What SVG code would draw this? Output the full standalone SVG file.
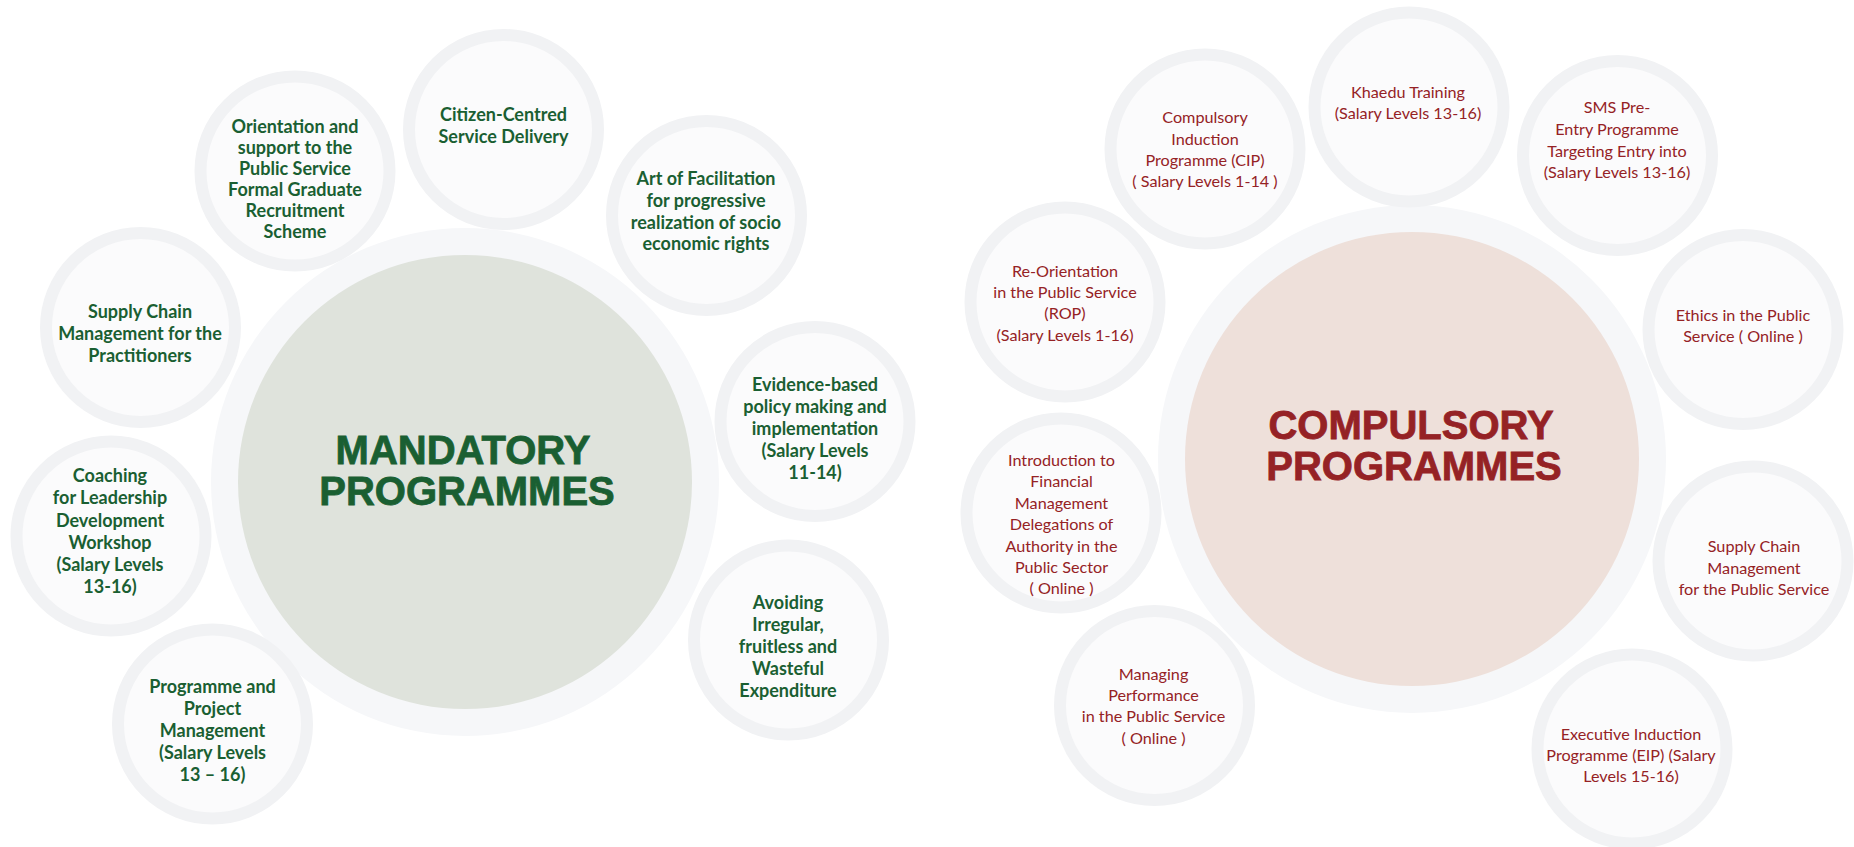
<svg xmlns="http://www.w3.org/2000/svg" width="1854" height="847" viewBox="0 0 1854 847">
  <style>
    .bg { fill: #ffffff; }
    .hub-ring { fill: #f6f7f9; }
    .hub-green { fill: #dfe3dc; }
    .hub-red { fill: #eee0da; }
    .bubble { fill: #fbfbfc; stroke: #f1f2f4; stroke-width: 12; }
    .title { font-family: "Liberation Sans", Arial, sans-serif; font-weight: bold; font-size: 40px; text-anchor: middle; stroke-width: 0.8; }
    .t-green { fill: #1a5f32; stroke: #1a5f32; }
    .t-red { fill: #952225; stroke: #952225; }
    .lbl-green { font-family: Lato, "Open Sans", sans-serif; font-weight: bold; font-size: 18px; text-anchor: middle; fill: #1a5f32; }
    .lbl-red { font-family: Lato, "Open Sans", sans-serif; font-size: 16.2px; text-anchor: middle; fill: #952225; }
  </style>
  <rect class="bg" x="0" y="0" width="1854" height="847"/>

  <!-- connectors: none drawn, bubbles simply cluster around each hub -->
  <g id="connectors"/>

  <!-- ===== Mandatory cluster ===== -->
  <g id="hub-mandatory">
    <circle class="hub-ring" cx="465" cy="482" r="254"/>
    <circle class="hub-green" cx="465" cy="482" r="227"/>
    <text class="title t-green" x="463" y="464">MANDATORY</text>
    <text class="title t-green" x="467" y="505">PROGRAMMES</text>
  </g>

  <g id="m-orientation">
    <circle class="bubble" cx="295" cy="171" r="94.5"/>
    <text class="lbl-green" x="295" y="133">Orientation and</text>
    <text class="lbl-green" x="295" y="154">support to the</text>
    <text class="lbl-green" x="295" y="175">Public Service</text>
    <text class="lbl-green" x="295" y="196">Formal Graduate</text>
    <text class="lbl-green" x="295" y="217">Recruitment</text>
    <text class="lbl-green" x="295" y="238">Scheme</text>
  </g>

  <g id="m-citizen">
    <circle class="bubble" cx="503.5" cy="129.5" r="94.5"/>
    <text class="lbl-green" x="503.5" y="121">Citizen-Centred</text>
    <text class="lbl-green" x="503.5" y="142.5">Service Delivery</text>
  </g>

  <g id="m-facilitation">
    <circle class="bubble" cx="706.5" cy="215.5" r="94.5"/>
    <text class="lbl-green" x="706" y="185">Art of Facilitation</text>
    <text class="lbl-green" x="706" y="207">for progressive</text>
    <text class="lbl-green" x="706" y="228.5">realization of socio</text>
    <text class="lbl-green" x="706" y="250">economic rights</text>
  </g>

  <g id="m-supply-chain">
    <circle class="bubble" cx="140.5" cy="327.5" r="94.5"/>
    <text class="lbl-green" x="140" y="318">Supply Chain</text>
    <text class="lbl-green" x="140" y="340">Management for the</text>
    <text class="lbl-green" x="140" y="362">Practitioners</text>
  </g>

  <g id="m-evidence">
    <circle class="bubble" cx="815" cy="421.5" r="94.5"/>
    <text class="lbl-green" x="815" y="391">Evidence-based</text>
    <text class="lbl-green" x="815" y="413">policy making and</text>
    <text class="lbl-green" x="815" y="435">implementation</text>
    <text class="lbl-green" x="815" y="457">(Salary Levels</text>
    <text class="lbl-green" x="815" y="479">11-14)</text>
  </g>

  <g id="m-coaching">
    <circle class="bubble" cx="111" cy="536" r="94.5"/>
    <text class="lbl-green" x="110" y="482">Coaching</text>
    <text class="lbl-green" x="110" y="504">for Leadership</text>
    <text class="lbl-green" x="110" y="526.5">Development</text>
    <text class="lbl-green" x="110" y="548.5">Workshop</text>
    <text class="lbl-green" x="110" y="570.5">(Salary Levels</text>
    <text class="lbl-green" x="110" y="592.5">13-16)</text>
  </g>

  <g id="m-project">
    <circle class="bubble" cx="212.5" cy="724" r="94.5"/>
    <text class="lbl-green" x="212.5" y="693">Programme and</text>
    <text class="lbl-green" x="212.5" y="715">Project</text>
    <text class="lbl-green" x="212.5" y="737">Management</text>
    <text class="lbl-green" x="212.5" y="759">(Salary Levels</text>
    <text class="lbl-green" x="212.5" y="781">13 – 16)</text>
  </g>

  <g id="m-expenditure">
    <circle class="bubble" cx="788.5" cy="640" r="94.5"/>
    <text class="lbl-green" x="788" y="609">Avoiding</text>
    <text class="lbl-green" x="788" y="631">Irregular,</text>
    <text class="lbl-green" x="788" y="653">fruitless and</text>
    <text class="lbl-green" x="788" y="675">Wasteful</text>
    <text class="lbl-green" x="788" y="697">Expenditure</text>
  </g>

  <!-- ===== Compulsory cluster ===== -->
  <g id="hub-compulsory">
    <circle class="hub-ring" cx="1412" cy="459" r="254"/>
    <circle class="hub-red" cx="1412" cy="459" r="227"/>
    <text class="title t-red" x="1411" y="439">COMPULSORY</text>
    <text class="title t-red" x="1414" y="480">PROGRAMMES</text>
  </g>

  <g id="c-cip">
    <circle class="bubble" cx="1205" cy="149" r="94.5"/>
    <text class="lbl-red" x="1205" y="123.3">Compulsory</text>
    <text class="lbl-red" x="1205" y="145">Induction</text>
    <text class="lbl-red" x="1205" y="166">Programme (CIP)</text>
    <text class="lbl-red" x="1205" y="187">( Salary Levels 1-14 )</text>
  </g>

  <g id="c-khaedu">
    <circle class="bubble" cx="1409" cy="107" r="94.5"/>
    <text class="lbl-red" x="1408" y="97.7">Khaedu Training</text>
    <text class="lbl-red" x="1408" y="119.3">(Salary Levels 13-16)</text>
  </g>

  <g id="c-sms">
    <circle class="bubble" cx="1617.5" cy="155.5" r="94.5"/>
    <text class="lbl-red" x="1617" y="113.3">SMS Pre-</text>
    <text class="lbl-red" x="1617" y="135">Entry Programme</text>
    <text class="lbl-red" x="1617" y="156.7">Targeting Entry into</text>
    <text class="lbl-red" x="1617" y="178.3">(Salary Levels 13-16)</text>
  </g>

  <g id="c-rop">
    <circle class="bubble" cx="1065" cy="302" r="94.5"/>
    <text class="lbl-red" x="1065" y="276.7">Re-Orientation</text>
    <text class="lbl-red" x="1065" y="298">in the Public Service</text>
    <text class="lbl-red" x="1065" y="319.3">(ROP)</text>
    <text class="lbl-red" x="1065" y="340.7">(Salary Levels 1-16)</text>
  </g>

  <g id="c-ethics">
    <circle class="bubble" cx="1743" cy="329.5" r="94.5"/>
    <text class="lbl-red" x="1743" y="320.7">Ethics in the Public</text>
    <text class="lbl-red" x="1743" y="342.3">Service ( Online )</text>
  </g>

  <g id="c-financial">
    <circle class="bubble" cx="1061" cy="513" r="94.5"/>
    <text class="lbl-red" x="1061.5" y="465.7">Introduction to</text>
    <text class="lbl-red" x="1061.5" y="487">Financial</text>
    <text class="lbl-red" x="1061.5" y="508.5">Management</text>
    <text class="lbl-red" x="1061.5" y="530">Delegations of</text>
    <text class="lbl-red" x="1061.5" y="551.5">Authority in the</text>
    <text class="lbl-red" x="1061.5" y="573">Public Sector</text>
    <text class="lbl-red" x="1061.5" y="594">( Online )</text>
  </g>

  <g id="c-performance">
    <circle class="bubble" cx="1154.5" cy="705.5" r="94.5"/>
    <text class="lbl-red" x="1153.5" y="679.7">Managing</text>
    <text class="lbl-red" x="1153.5" y="701">Performance</text>
    <text class="lbl-red" x="1153.5" y="722.3">in the Public Service</text>
    <text class="lbl-red" x="1153.5" y="743.7">( Online )</text>
  </g>

  <g id="c-supply-chain">
    <circle class="bubble" cx="1753" cy="561" r="94.5"/>
    <text class="lbl-red" x="1754" y="552.3">Supply Chain</text>
    <text class="lbl-red" x="1754" y="573.7">Management</text>
    <text class="lbl-red" x="1754" y="595">for the Public Service</text>
  </g>

  <g id="c-eip">
    <circle class="bubble" cx="1632" cy="749" r="94.5"/>
    <text class="lbl-red" x="1631" y="739.7">Executive Induction</text>
    <text class="lbl-red" x="1631" y="761">Programme (EIP) (Salary</text>
    <text class="lbl-red" x="1631" y="782.3">Levels 15-16)</text>
  </g>
</svg>
